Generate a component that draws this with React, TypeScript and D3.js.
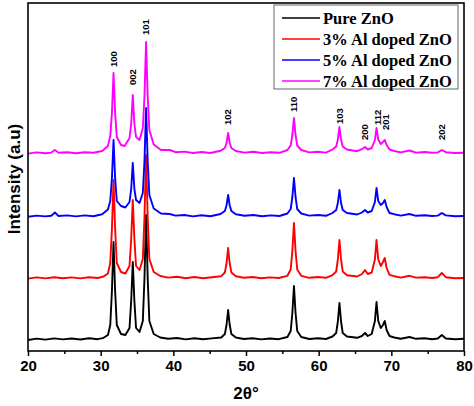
import React, { useEffect, useRef } from 'react';
import * as d3 from 'd3';

type Pt = [number, number];

// intensity above each pattern's own baseline (a.u.)
const pureZnO: Pt[] = [
  [20, 0], [21.2, 14], [22.4, 4], [23.6, 16], [24.8, 6], [26, 15], [27.2, 5], [28.4, 17], [29.6, 8],
  [30.4, 22], [31, 50], [31.32, 150], [31.55, 490], [31.77, 980], [31.99, 490], [32.22, 150], [32.8, 60],
  [33.4, 50], [33.97, 120], [34.2, 390], [34.42, 780], [34.64, 390], [34.87, 120], [35.35, 80],
  [35.8, 190], [36.03, 620], [36.25, 1250], [36.47, 620], [36.7, 190], [37.3, 60], [38.2, 25],
  [39.3, 12], [40.5, 20], [41.7, 6], [42.9, 18], [44.1, 8], [45.3, 16], [46.6, 25], [47.09, 60],
  [47.32, 150], [47.54, 300], [47.76, 150], [47.99, 60], [48.6, 25], [49.7, 10], [50.9, 18], [52.1, 6],
  [53.3, 15], [54.5, 8], [55.7, 30], [56.15, 90], [56.38, 270], [56.6, 540], [56.82, 270], [57.05, 90],
  [57.6, 30], [58.7, 10], [59.9, 18], [61, 10], [61.9, 35], [62.41, 70], [62.64, 185], [62.86, 370],
  [63.08, 185], [63.31, 70], [63.9, 35], [65.3, 22], [65.95, 40], [66.38, 70], [66.75, 40], [67.3, 60],
  [67.74, 190], [67.96, 380], [68.2, 190], [68.55, 120], [68.85, 150], [69.1, 190], [69.35, 100],
  [69.75, 40], [70.4, 25], [71.3, 12], [72.5, 30], [73.4, 12], [74.6, 18], [75.6, 8], [76.4, 15],
  [76.95, 50], [77.5, 15], [78.8, 8], [80, 12],
];

const al3: Pt[] = [
  [20, 4], [21.2, 16], [22.4, 6], [23.6, 18], [24.8, 8], [26, 16], [27.2, 6], [28.4, 18], [29.6, 10],
  [30.4, 25], [31, 55], [31.32, 160], [31.55, 500], [31.77, 990], [31.99, 500], [32.22, 160], [32.8, 70],
  [33.4, 55], [33.97, 130], [34.2, 400], [34.42, 790], [34.64, 400], [34.87, 130], [35.35, 90],
  [35.8, 200], [36.03, 620], [36.25, 1240], [36.47, 620], [36.7, 200], [37.3, 70], [38.2, 30],
  [39.3, 14], [40.5, 22], [41.7, 8], [42.9, 20], [44.1, 8], [45.3, 18], [46.6, 28], [47.09, 65],
  [47.32, 155], [47.54, 310], [47.76, 155], [47.99, 65], [48.6, 28], [49.7, 12], [50.9, 20], [52.1, 8],
  [53.3, 16], [54.5, 10], [55.7, 32], [56.15, 95], [56.38, 280], [56.6, 560], [56.82, 280], [57.05, 95],
  [57.6, 32], [58.7, 12], [59.9, 20], [61, 12], [61.9, 38], [62.41, 75], [62.64, 195], [62.86, 390],
  [63.08, 195], [63.31, 75], [63.9, 38], [65.3, 25], [65.95, 50], [66.38, 90], [66.75, 50], [67.3, 65],
  [67.74, 195], [67.96, 390], [68.2, 195], [68.55, 130], [68.85, 170], [69.1, 210], [69.35, 110],
  [69.75, 42], [70.4, 28], [71.3, 14], [72.5, 32], [73.4, 14], [74.6, 18], [75.6, 10], [76.4, 18],
  [76.95, 60], [77.5, 18], [78.8, 8], [80, 10],
];

const al5: Pt[] = [
  [20, 2], [21.2, 14], [22.4, 6], [23.2, 12], [23.7, 45], [24.2, 10], [25.4, 16], [26.6, 6],
  [27.8, 16], [29, 8], [30.2, 28], [31, 75], [31.32, 160], [31.55, 390], [31.77, 770], [31.99, 390],
  [32.22, 160], [32.8, 110], [33.4, 95], [33.97, 150], [34.2, 280], [34.42, 540], [34.64, 280],
  [34.87, 170], [35.35, 140], [35.8, 240], [36.03, 560], [36.25, 1090], [36.47, 560], [36.7, 220],
  [37.3, 85], [38.3, 35], [39.5, 30], [40.3, 14], [41.5, 20], [42.7, 6], [43.9, 18], [45.1, 8],
  [46.5, 30], [47.09, 60], [47.32, 115], [47.54, 220], [47.76, 115], [47.99, 60], [48.6, 28],
  [49.8, 12], [51, 20], [52.2, 8], [53.4, 16], [54.6, 10], [55.7, 35], [56.15, 80], [56.38, 200],
  [56.6, 390], [56.82, 200], [57.05, 80], [57.6, 35], [58.7, 14], [59.9, 20], [61, 12], [61.9, 40],
  [62.41, 70], [62.64, 140], [62.86, 270], [63.08, 140], [63.31, 70], [63.9, 40], [65.3, 25],
  [65.95, 45], [66.38, 70], [66.75, 45], [67.3, 60], [67.74, 150], [67.96, 290], [68.2, 160],
  [68.55, 120], [68.85, 140], [69.1, 170], [69.35, 100], [69.75, 40], [70.4, 28], [71.3, 14],
  [72.5, 30], [73.4, 12], [74.6, 18], [75.6, 10], [76.4, 14], [76.95, 40], [77.5, 16], [78.8, 8],
  [80, 10],
];

const al7: Pt[] = [
  [20, 4], [21.2, 16], [22.4, 8], [23.2, 14], [23.7, 40], [24.2, 12], [25.4, 18], [26.6, 8],
  [27.8, 18], [29, 12], [30.2, 30], [31, 80], [31.32, 180], [31.55, 410], [31.77, 810], [31.99, 410],
  [32.22, 170], [32.8, 90], [33.3, 80], [33.97, 160], [34.2, 300], [34.42, 590], [34.64, 300],
  [34.87, 170], [35.35, 140], [35.8, 260], [36.03, 580], [36.25, 1120], [36.47, 580], [36.7, 240],
  [37.3, 95], [38.3, 40], [39.5, 40], [40.3, 18], [41.5, 24], [42.7, 10], [43.9, 20], [45.1, 10],
  [46.5, 32], [47.09, 60], [47.32, 110], [47.54, 210], [47.76, 110], [47.99, 60], [48.6, 30],
  [49.8, 14], [51, 22], [52.2, 10], [53.4, 18], [54.6, 12], [55.7, 40], [56.15, 85], [56.38, 190],
  [56.6, 360], [56.82, 190], [57.05, 85], [57.6, 40], [58.7, 16], [59.9, 22], [61, 14], [61.9, 45],
  [62.41, 75], [62.64, 145], [62.86, 270], [63.08, 145], [63.31, 75], [63.9, 45], [65.3, 28],
  [65.95, 48], [66.38, 70], [66.75, 45], [67.3, 60], [67.74, 140], [67.96, 260], [68.2, 145],
  [68.55, 100], [68.85, 120], [69.1, 140], [69.35, 90], [69.75, 45], [70.4, 30], [71.3, 16],
  [72.5, 35], [73.4, 14], [74.6, 20], [75.6, 12], [76.4, 16], [76.95, 40], [77.5, 18], [78.8, 10],
  [80, 12],
];

const seriesNames = ['Pure ZnO', '3% Al doped ZnO', '5% Al doped ZnO', '7% Al doped ZnO'];
const seriesData = [pureZnO, al3, al5, al7];
const seriesColors = ['#000000', '#ff0000', '#0000ff', '#ff00ff'];
const seriesOffsets = [0, 610, 1230, 1860];

const hklNames = ['100', '002', '101', '102', '110', '103', '200', '112', '201', '202'];
const hklTheta = [31.77, 34.42, 36.25, 47.54, 56.6, 62.86, 66.38, 68.15, 69.25, 76.95];
const hklLevel = [2730, 2550, 3050, 2150, 2280, 2160, 2000, 2150, 2100, 2000];

const xMajor = [20, 30, 40, 50, 60, 70, 80];
const xMinor = [25, 35, 45, 55, 65, 75];

const W = 474, H = 406;
const margin = { top: 3, right: 10, bottom: 55, left: 28 };

const App: React.FC = () => {
  const ref = useRef<SVGSVGElement>(null);

  useEffect(() => {
    const svg = d3.select(ref.current);
    svg.selectAll('*').remove();

    const x = d3.scaleLinear().domain([20, 80]).range([margin.left, W - margin.right]);
    const y = d3.scaleLinear().domain([-110, 3370]).range([H - margin.bottom, margin.top]);

    // patterns, pure first so the doped ones sit on top
    seriesData.forEach((d, i) => {
      const line = d3.line<Pt>()
        .x(p => x(p[0]))
        .y(p => y(p[1] + seriesOffsets[i]));
      svg.append('path')
        .datum(d)
        .attr('fill', 'none')
        .attr('stroke', seriesColors[i])
        .attr('stroke-width', 1.9)
        .attr('stroke-linejoin', 'round')
        .attr('d', line);
    });

    // hkl labels
    hklNames.forEach((h, i) => {
      svg.append('text')
        .attr('transform', `translate(${x(hklTheta[i])},${y(hklLevel[i])}) rotate(-90)`)
        .attr('dy', '0.35em')
        .attr('font-family', '"Liberation Sans", Arial, sans-serif')
        .attr('font-weight', 'bold')
        .attr('font-size', 9.5)
        .text(h);
    });

    // frame
    svg.append('rect')
      .attr('x', margin.left)
      .attr('y', margin.top)
      .attr('width', W - margin.left - margin.right)
      .attr('height', H - margin.top - margin.bottom)
      .attr('fill', 'none')
      .attr('stroke', '#000')
      .attr('stroke-width', 1.6);

    // x axis
    const gx = svg.append('g').attr('transform', `translate(0,${H - margin.bottom})`);
    gx.call(d3.axisBottom(x).tickValues(xMajor).tickSize(5).tickPadding(4).tickFormat(d3.format('d')));
    gx.append('g').call(d3.axisBottom(x).tickValues(xMinor).tickSize(3).tickFormat(() => ''));
    gx.selectAll('.domain').remove();
    gx.selectAll('line').attr('stroke', '#000').attr('stroke-width', 1.5);
    gx.selectAll('text')
      .attr('fill', '#000')
      .attr('font-family', '"Liberation Sans", Arial, sans-serif')
      .attr('font-weight', 'bold')
      .attr('font-size', 15);

    svg.append('text')
      .attr('x', (margin.left + W - margin.right) / 2)
      .attr('y', 399)
      .attr('text-anchor', 'middle')
      .attr('font-family', '"Liberation Sans", Arial, sans-serif')
      .attr('font-weight', 'bold')
      .attr('font-size', 17)
      .text('2θ°');

    svg.append('text')
      .attr('transform', `translate(14,179) rotate(-90)`)
      .attr('text-anchor', 'middle')
      .attr('dy', '0.35em')
      .attr('font-family', '"Liberation Sans", Arial, sans-serif')
      .attr('font-weight', 'bold')
      .attr('font-size', 17)
      .text('Intensity (a.u)');

    // legend
    const lg = svg.append('g').attr('transform', 'translate(274,5)');
    lg.append('rect')
      .attr('width', 184).attr('height', 84)
      .attr('fill', '#fff').attr('stroke', '#666').attr('stroke-width', 1);
    seriesNames.forEach((n, i) => {
      const row = lg.append('g').attr('transform', `translate(0,${13 + i * 21})`);
      row.append('line')
        .attr('x1', 8).attr('x2', 46)
        .attr('stroke', seriesColors[i]).attr('stroke-width', 1.6);
      row.append('text')
        .attr('x', 49)
        .attr('dy', '0.35em')
        .attr('font-family', '"Liberation Serif", "Times New Roman", serif')
        .attr('font-weight', 'bold')
        .attr('font-size', 16.5)
        .text(n);
    });
  }, []);

  return (
    <svg ref={ref} width={W} height={H}
      style={{ position: 'absolute', left: 0, top: 0, background: '#fff' }} />
  );
};

export default App;
